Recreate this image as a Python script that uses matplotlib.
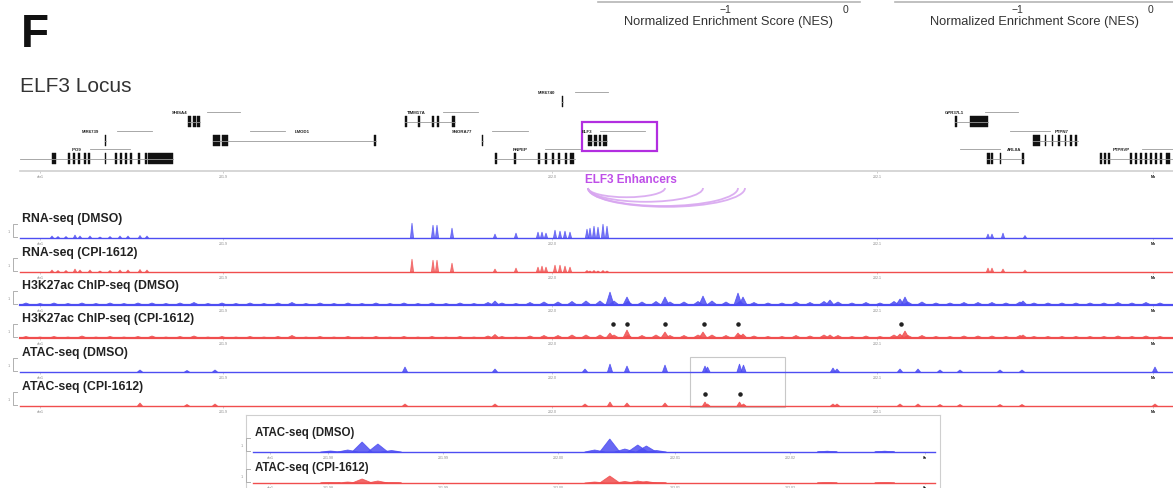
import matplotlib
matplotlib.use("Agg")
import matplotlib.pyplot as plt
from matplotlib.patches import Rectangle, Arc
from matplotlib.lines import Line2D

W, H = 1173, 489
plt.rcParams["font.family"] = ["Liberation Sans", "DejaVu Sans"]

# ---- genes in the window (coordinates in window units, 1 unit ~ 1 px) ----
gene_names = ["IPO9", "MIR6739", "SHISA4", "LMOD1", "TIMM17A", "SNORA77", "MIR6740",
              "RNPEP", "ELF3", "GPR37L1", "PTPN7", "ARL8A", "PTPRVP"]
gene_rows = [3, 2, 1, 2, 1, 2, 0, 3, 2, 1, 2, 3, 3]
gene_label_x = [72, 82, 172, 295, 407, 452, 538, 513, 582, 945, 1055, 1007, 1113]
gene_strand = [(90, 130), (117, 152), (207, 240), (250, 285), (443, 478), (492, 528), (575, 608),
               (545, 580), (600, 645), (985, 1018), (1010, 1050), (960, 1000), (1142, 1173)]
gene_body = [(20, 173), (105, 106), (188, 200), (213, 376), (405, 455), (482, 483), (562, 563),
             (495, 575), (588, 607), (955, 988), (1033, 1078), (987, 1024), (1100, 1173)]
gene_exons = [
    [(52, 56), (68, 70), (73, 75), (78, 80), (84, 86), (88, 90), (105, 106), (115, 117), (120, 122),
     (125, 127), (130, 132), (138, 140), (145, 147), (148, 173)],
    [(104.5, 106)],
    [(188, 191), (193, 196), (197, 200)],
    [(213, 220), (222, 228), (374, 376)],
    [(405, 406.5), (418, 419.5), (432, 433.5), (437, 438.5), (452, 455)],
    [(481.5, 483)],
    [(561.5, 563)],
    [(495, 497), (514, 516), (538, 540), (545, 547), (552, 554), (558, 560), (565, 567), (570, 574)],
    [(588, 592), (594, 597), (599, 601), (603, 607)],
    [(955, 957), (970, 988)],
    [(1033, 1040), (1045, 1046), (1052, 1053), (1058, 1060), (1065, 1066), (1070, 1072), (1075, 1077)],
    [(987, 990), (991, 993), (1000, 1001), (1022, 1024)],
    [(1100, 1102), (1104, 1106), (1108, 1110), (1130, 1132), (1135, 1137), (1140, 1142), (1145, 1147),
     (1150, 1152), (1155, 1157), (1160, 1162), (1166, 1170)],
]
elf3_box = (582, 657)

# enhancer loops to the ELF3 promoter
loop_anchor = 588
loop_targets = [665, 703, 738, 745]

window_ticks = [40, 223, 552, 877, 1153]
window_ticklabels = ["chr1", "201.9", "202.0", "202.1", "Mb"]

# ---- RNA-seq ----
rna_pos = [52, 58, 66, 75, 80, 90, 100, 110, 120, 128, 140, 147, 412, 433, 437, 452, 495, 516,
           538, 542, 546, 555, 560, 565, 570, 587, 590, 594, 598, 603, 607, 988, 992, 1003, 1025]
rna_dmso = [2, 1.5, 1.5, 3, 2, 2, 1, 1.5, 2, 2, 2.5, 2, 15, 13, 13, 10, 4, 5,
            6, 6, 5, 8, 7, 7, 6, 9, 10, 12, 11, 14, 12, 4, 4, 5, 2.5]
rna_cpi = [2, 1.5, 1.5, 3, 2, 2, 1, 1.5, 2, 2, 2.5, 2, 13, 12, 12, 9, 3, 4,
           5, 6, 5, 7, 7, 6, 5, 1.5, 1, 1.5, 1, 1.5, 1, 4, 4, 3, 2]

# ---- H3K27ac ChIP-seq ----
h3k_bg_pos = [26, 40, 54, 68, 82, 96, 110, 124, 138, 152, 166, 180, 194, 208, 222, 236, 250, 264,
              278, 292, 306, 320, 334, 348, 362, 376, 390, 404, 418, 432, 446, 460, 474, 488, 502,
              516, 530, 544, 558, 572, 586, 600, 614, 628, 642, 656, 670, 684, 698, 712, 726, 740,
              754, 768, 782, 796, 810, 824, 838, 852, 866, 880, 894, 908, 922, 936, 950, 964, 978,
              992, 1006, 1020, 1034, 1048, 1062, 1076, 1090, 1104, 1118, 1132, 1146, 1160]
h3k_bg_dmso = [2, 1.5, 2, 1.5, 2, 1.5, 2, 1.5, 2, 2, 1.5, 2, 2.5, 1.5, 2, 1.5, 2, 1.5,
               2, 2.5, 1.5, 2, 1.5, 2, 1.5, 2, 1.5, 2, 1.5, 2, 1.5, 2, 1.5, 2.5, 2,
               1.5, 2.5, 3, 3, 3.5, 4, 4, 4, 3.5, 3, 3.5, 3, 3, 3.5, 4, 3, 3.5,
               2.5, 2, 2, 3, 2.5, 3.5, 3, 2, 2.5, 2, 3.5, 3, 3, 2, 2, 2.5, 2.5,
               2.5, 2, 3, 2, 2, 2, 2, 2, 2, 2.5, 2, 2.5, 2]
h3k_bg_cpi = [1.5, 1, 1.5, 1, 2, 1, 1.5, 1, 1.5, 2, 1, 1.5, 2, 1, 1.5, 1, 1.5, 1,
              1.5, 2.5, 1, 1.5, 1, 1.5, 1, 1.5, 1, 1.5, 1, 1.5, 1, 1.5, 1, 2, 1.5,
              1, 2, 2.5, 2.5, 3, 3, 3, 3, 2.5, 2.5, 3, 2.5, 2.5, 3, 3, 2.5, 3,
              2, 1.5, 1.5, 2.5, 2, 3, 2.5, 1.5, 2, 1.5, 3, 2.5, 2.5, 1.5, 1.5, 2, 2,
              2, 1.5, 2.5, 1.5, 1.5, 1.5, 1.5, 1.5, 1.5, 2, 1.5, 2, 1.5]
h3k_peak_pos = [495, 610, 627, 665, 703, 738, 743, 830, 900, 905, 1023]
h3k_peak_dmso = [4, 13, 8, 8, 9, 12, 8, 5, 6, 8, 4]
h3k_peak_cpi = [3.5, 5, 8, 6, 6, 5, 4, 3, 4, 7, 3]
h3k_marked = [613, 627, 665, 704, 738, 901]

# ---- ATAC-seq ----
atac_pos = [140, 187, 215, 405, 495, 585, 610, 627, 665, 705, 707.5, 739.5, 743.5,
            833, 837, 900, 918, 940, 960, 1000, 1022, 1155]
atac_dmso = [2, 1.5, 2, 5, 3, 3, 8, 6, 7, 6, 5, 8, 7, 4, 3, 3, 3, 2, 2, 2, 2, 5]
atac_cpi = [3, 1.5, 2, 2, 2, 2, 4, 3, 3, 4, 2, 4, 2, 2, 2, 2, 2, 1.5, 1.5, 1.5, 1.5, 2]
atac_marked = [705, 739.5]

# zoomed view of the two ELF3 enhancers
zoom_range = (690, 785)
inset_pos = [700.8, 703.2, 705.2, 707.4, 709.3, 737.6, 739.7, 741.8, 743.6, 744.8, 746.2, 770.0, 778.0]
inset_dmso = [1, 2, 10, 8, 1.5, 2, 13, 3, 7, 6, 1.5, 0.8, 0.8]
inset_cpi = [0.5, 1, 4, 2, 0.5, 1, 7, 1.5, 2, 1.5, 0.5, 0.3, 0.3]
inset_ticks = [692.4, 700.5, 716.5, 732.5, 748.8, 764.8, 783.6]
inset_ticklabels = ["chr1", "201.98", "201.99", "202.00", "202.01", "202.02", "kb"]

BLUE = "#4d4df2"
RED = "#f04e4e"
GREY = "#d0d0d0"

fig = plt.figure(figsize=(W / 100, H / 100), dpi=100)


def px_axes(x0, y0, x1, y1):
    ax = fig.add_axes([x0 / W, 1 - y1 / H, (x1 - x0) / W, (y1 - y0) / H])
    ax.patch.set_alpha(0)
    return ax


def fy(y):
    return 1 - y / H


def scale_mark(x, base):
    # little "[" showing the track's data range
    fig.add_artist(Line2D([(x + 4) / W, x / W, x / W, (x + 4) / W],
                          [fy(base - 14), fy(base - 14), fy(base - 1), fy(base - 1)],
                          color="#b0b0b0", lw=0.7))
    fig.text((x - 5) / W, fy(base - 7), "1", fontsize=3, color="#999999", va="center")


def track(label, base, pos, vals, color, half_w, xlim, ticks, ticklabels, x0=20, x1=W,
          label_size=8.8, label_gap=20, alpha=0.85, tick_pad=1, tick_len=1.5):
    ax = px_axes(x0, base - 16, x1, base)
    for p, v in zip(pos, vals):
        ax.fill([p - half_w, p, p + half_w], [0, v, 0], color=color, alpha=alpha, lw=0.6, zorder=2)
    ax.set_xlim(*xlim)
    ax.set_ylim(0, 16)
    ax.set_yticks([])
    for s in ["top", "left", "right"]:
        ax.spines[s].set_visible(False)
    ax.spines["bottom"].set_color(color)
    ax.spines["bottom"].set_linewidth(1.0)
    ax.set_xticks(ticks, ticklabels)
    ax.tick_params(axis="x", length=tick_len, width=0.4, color="#aaaaaa", pad=tick_pad,
                   labelsize=2.6, labelcolor="#888888")
    ax.get_xticklabels()[-1].set_color("#111111")
    ax.get_xticklabels()[-1].set_fontweight("bold")
    fig.text((x0 + 2) / W, fy(base - label_gap), label, fontsize=label_size, fontweight="bold",
             color="#222222", va="center")
    scale_mark(x0 - 7, base)
    return ax


# ---- panel letter and title ----
fig.text(21 / W, fy(35), "F", fontsize=33, fontweight="bold", va="center", color="#111111")
fig.text(20 / W, fy(87), "ELF3 Locus", fontsize=15, color="#333333", va="center")

# ---- partial NES axes from the panel above ----
for (x0, x1), lim in [((598, 860), (-2.06, 0.125)), ((895, 1173), (-1.92, 0.17))]:
    ax = px_axes(x0, -60, x1, 3)
    ax.set_xlim(*lim)
    ax.set_ylim(0, 1)
    for s in ["top", "left", "right"]:
        ax.spines[s].set_visible(False)
    ax.spines["bottom"].set_color("#b5b5b5")
    ax.spines["bottom"].set_linewidth(1.2)
    ax.set_yticks([])
    ax.set_xticks([-1, 0], ["\u22121", "0"])
    ax.tick_params(axis="x", length=0, pad=1.5, labelsize=7.5, labelcolor="#333333")
    ax.set_xlabel("Normalized Enrichment Score (NES)", fontsize=9.3, color="#333333", labelpad=0.5)

# ---- gene annotation track ----
row_y = [93, 113, 132, 150]
gax = px_axes(20, 80, W, 172)
gax.set_xlim(20, W)
gax.set_ylim(172, 80)
for s in ["top", "left", "right"]:
    gax.spines[s].set_visible(False)
gax.spines["bottom"].set_color(GREY)
gax.spines["bottom"].set_linewidth(1.2)
gax.set_yticks([])
gax.set_xticks(window_ticks, window_ticklabels)
gax.tick_params(axis="x", length=1.5, width=0.4, color="#aaaaaa", pad=1,
                labelsize=2.6, labelcolor="#888888")
gax.get_xticklabels()[-1].set_color("#111111")
gax.get_xticklabels()[-1].set_fontweight("bold")

for name, row, lx, (s0, s1), (b0, b1), exons in zip(gene_names, gene_rows, gene_label_x,
                                                     gene_strand, gene_body, gene_exons):
    y = row_y[row]
    gax.text(lx, y, name, fontsize=3.2, fontweight="bold", color="#222222", va="center", ha="left")
    gax.plot([s0, s1], [y, y], color="#9a9a9a", lw=0.6)
    gax.plot([b0, b1], [y + 9.5, y + 9.5], color="#9a9a9a", lw=0.6)
    for e0, e1 in exons:
        gax.add_patch(Rectangle((e0, y + 4), e1 - e0, 11, color="#111111", lw=0.3))

gax.add_patch(Rectangle((elf3_box[0], 123), elf3_box[1] - elf3_box[0], 29, fill=False,
                        edgecolor="#b22ee0", lw=1.6, clip_on=False))

# ---- enhancer loops ----
lax = px_axes(20, 183, W, 212)
lax.set_xlim(20, W)
lax.set_ylim(-29, 0)
lax.axis("off")
for t in loop_targets:
    d = t - loop_anchor
    lax.add_patch(Arc(((loop_anchor + t) / 2, -6), d, 0.24 * d, theta1=180, theta2=360,
                      color="#d8a6f0", lw=1.3, alpha=0.9))
fig.text(585 / W, fy(180), "ELF3 Enhancers", fontsize=8.5, fontweight="bold",
         color="#bf4fe8", va="center")

# ---- signal tracks ----
xl = (20, W)
track("RNA-seq (DMSO)", 239, rna_pos, rna_dmso, BLUE, 1.6, xl, window_ticks, window_ticklabels, alpha=0.75)
track("RNA-seq (CPI-1612)", 273, rna_pos, rna_cpi, RED, 1.6, xl, window_ticks, window_ticklabels, alpha=0.75)

ax = track("H3K27ac ChIP-seq (DMSO)", 306, h3k_bg_pos, h3k_bg_dmso, BLUE, 5, xl,
           window_ticks, window_ticklabels)
ax.spines["bottom"].set_linewidth(1.6)
for p, v in zip(h3k_peak_pos, h3k_peak_dmso):
    ax.fill([p - 4, p, p + 4], [0, v, 0], color=BLUE, alpha=0.85, lw=0.6)

ax = track("H3K27ac ChIP-seq (CPI-1612)", 339, h3k_bg_pos, h3k_bg_cpi, RED, 5, xl,
           window_ticks, window_ticklabels)
ax.spines["bottom"].set_linewidth(1.6)
for p, v in zip(h3k_peak_pos, h3k_peak_cpi):
    ax.fill([p - 4, p, p + 4], [0, v, 0], color=RED, alpha=0.85, lw=0.6)
ax.scatter(h3k_marked, [14] * len(h3k_marked), s=5, color="#222222", clip_on=False, zorder=5)

ax = track("ATAC-seq (DMSO)", 373, atac_pos, atac_dmso, BLUE, 2.5, xl, window_ticks, window_ticklabels)
ax.add_patch(Rectangle((zoom_range[0], -35), zoom_range[1] - zoom_range[0], 50, fill=False,
                       edgecolor="#c8c8c8", lw=0.8, clip_on=False))

ax = track("ATAC-seq (CPI-1612)", 407, atac_pos, atac_cpi, RED, 2.5, xl, window_ticks, window_ticklabels)
ax.scatter(atac_marked, [12] * len(atac_marked), s=5, color="#222222", clip_on=False, zorder=5)

# ---- zoomed enhancer view ----
bax = px_axes(246, 416, 940, 500)
bax.set_xticks([])
bax.set_yticks([])
for s in bax.spines.values():
    s.set_color("#cfcfcf")
    s.set_linewidth(0.8)

track("ATAC-seq (DMSO)", 453, inset_pos, inset_dmso, BLUE, 1.4, zoom_range, inset_ticks,
      inset_ticklabels, x0=253, x1=935, label_size=8.3)
track("ATAC-seq (CPI-1612)", 484, inset_pos, inset_cpi, RED, 1.4, zoom_range, inset_ticks,
      inset_ticklabels, x0=253, x1=935, label_size=8.3, label_gap=16, tick_pad=0.3, tick_len=1)

fig.savefig("out.png", dpi=100)
